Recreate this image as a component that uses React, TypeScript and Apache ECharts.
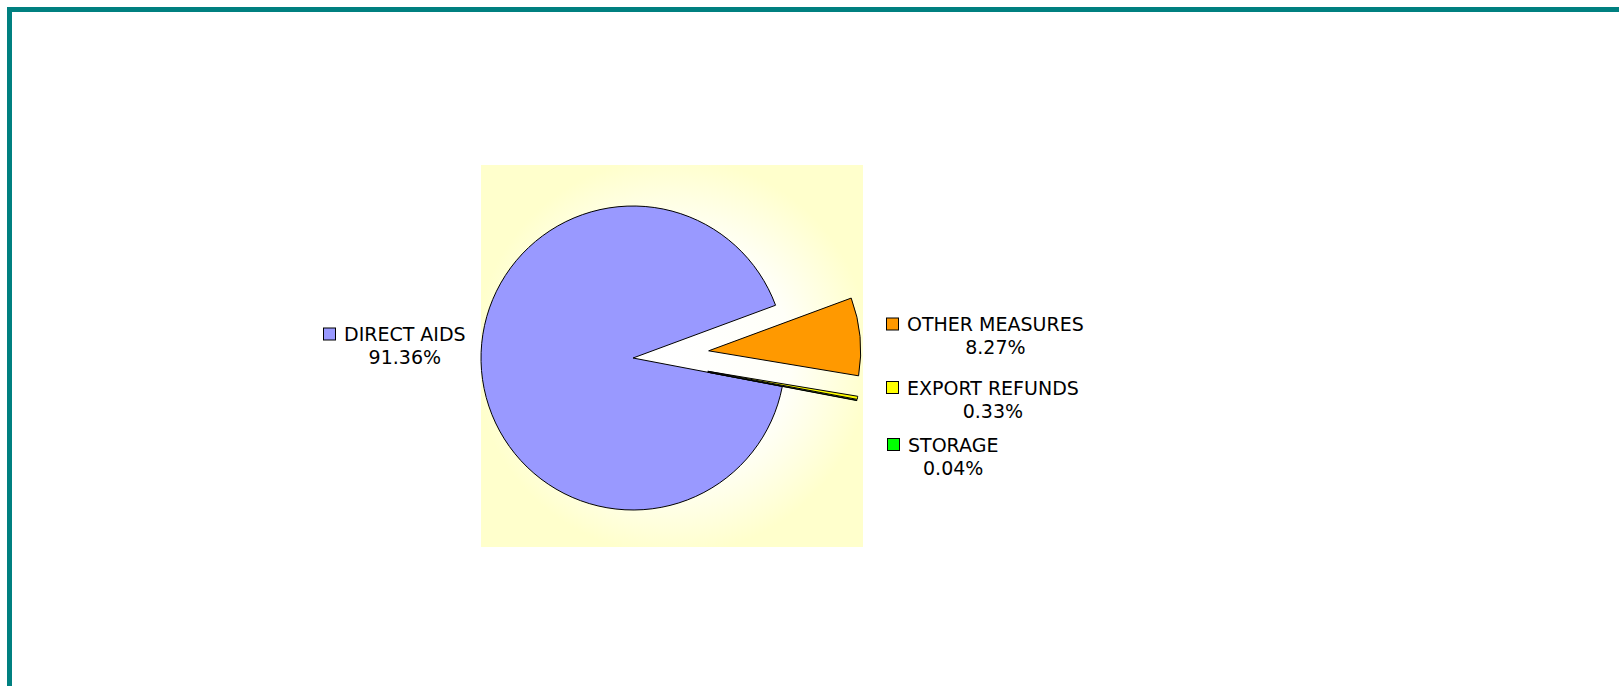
import React, { useEffect, useRef } from 'react';
import * as echarts from 'echarts';

// ---- data ----
const categories: string[] = ['DIRECT AIDS', 'OTHER MEASURES', 'EXPORT REFUNDS', 'STORAGE'];
const shares: number[] = [91.36, 8.27, 0.33, 0.04];
const sliceColors: string[] = ['#9999FF', '#FF9900', '#FFFF00', '#00FF00'];
const exploded: boolean[] = [false, true, true, true];

const FONT = "'DejaVu Sans', Verdana, sans-serif";

export default function App() {
  const ref = useRef<HTMLDivElement>(null);

  useEffect(() => {
    if (!ref.current) return;
    const chart = echarts.init(ref.current, undefined, { renderer: 'svg' });

    // label block anchors (left edge of legend key, top of the two-line block)
    const labelAnchors: [number, number][] = [
      [324, 322.5],
      [887, 312.5],
      [887, 376],
      [888, 433],
    ];

    const rich: Record<string, any> = {
      gap: { width: 9, lineHeight: 23, align: 'left' },
      name: { fontSize: 19, fontFamily: FONT, color: '#000', lineHeight: 23, align: 'left' },
      pad: { width: 20, lineHeight: 23, align: 'center' },
      pct: { fontSize: 19, fontFamily: FONT, color: '#000', lineHeight: 23, align: 'center' },
    };
    sliceColors.forEach((c, i) => {
      rich['sq' + i] = {
        width: 11,
        height: 11,
        backgroundColor: c,
        borderColor: '#000',
        borderWidth: 1,
        lineHeight: 23,
        align: 'left',
      };
    });

    const pieBase = {
      type: 'pie',
      center: [633, 358],
      radius: [0, 152],
      startAngle: -10.8,
      clockwise: true,
      avoidLabelOverlap: false,
      minShowLabelAngle: 0,
      emphasis: { disabled: true },
    };

    chart.setOption({
      animation: false,
      graphic: [
        {
          type: 'rect',
          z: 0,
          shape: { x: 481, y: 165, width: 382, height: 382 },
          style: {
            fill: {
              type: 'radial',
              x: 0.5,
              y: 0.5,
              r: 0.52,
              colorStops: [
                { offset: 0, color: '#FFFFFF' },
                { offset: 0.6, color: '#FFFFF8' },
                { offset: 1, color: '#FFFFCC' },
              ],
            },
          },
        },
        {
          type: 'rect',
          z: 0,
          shape: { x: 9.5, y: 9.5, width: 1800, height: 900 },
          style: { fill: 'none', stroke: '#008080', lineWidth: 5 },
        },
      ],
      series: [
        {
          ...pieBase,
          z: 5,
          selectedMode: 'multiple',
          selectedOffset: 76,
          itemStyle: { borderColor: '#000', borderWidth: 1 },
          select: { itemStyle: { borderColor: '#000', borderWidth: 1 }, label: { show: false } },
          label: { show: false },
          labelLine: { show: false },
          data: categories.map((name, i) => ({
            name,
            value: shares[i],
            selected: exploded[i],
            itemStyle: { color: sliceColors[i] },
          })),
        },
        {
          ...pieBase,
          z: 6,
          silent: true,
          selectedMode: false,
          itemStyle: { color: 'rgba(0,0,0,0)', borderWidth: 0 },
          labelLine: { show: false },
          label: {
            show: true,
            position: 'outside',
            fontFamily: FONT,
            fontSize: 19,
            color: '#000',
            lineHeight: 23,
            formatter: (p: any) =>
              `{sq${p.dataIndex}|}{gap|}{name|${p.name}}\n{pad|}{pct|${Number(p.percent).toFixed(2)}%}`,
            rich,
          },
          labelLayout: (p: any) => ({
            x: labelAnchors[p.dataIndex][0],
            y: labelAnchors[p.dataIndex][1],
            align: 'left',
            verticalAlign: 'top',
          }),
          data: categories.map((name, i) => ({ name, value: shares[i] })),
        },
      ],
    });

    return () => chart.dispose();
  }, []);

  return (
    <div
      ref={ref}
      style={{ position: 'absolute', left: 0, top: 0, width: 1619, height: 686, background: '#fff' }}
    />
  );
}
